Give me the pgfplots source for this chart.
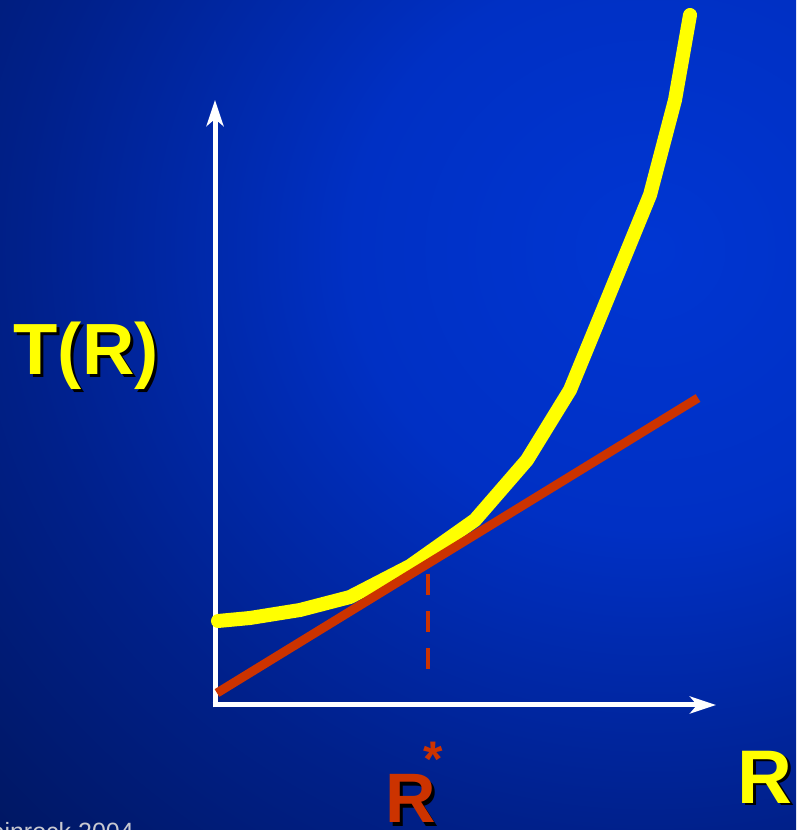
\documentclass[border=0pt]{standalone}
\usepackage{pgfplots}
\pgfplotsset{compat=1.18}
\usepackage{fontspec}
\setmainfont{Liberation Sans}
\usetikzlibrary{arrows.meta}
\definecolor{ylw}{HTML}{FFFF00}
\definecolor{rd}{HTML}{CC3300}
\definecolor{c0}{HTML}{0036D2}
\definecolor{c1}{HTML}{0030C4}
\definecolor{c2}{HTML}{00208A}
\definecolor{c3}{HTML}{001456}
\definecolor{c4}{HTML}{000C3E}
\definecolor{credit}{HTML}{C8C8D0}
\pgfdeclareradialshading{bg}{\pgfpoint{0bp}{0bp}}{color(0bp)=(c0); color(10bp)=(c1); color(21bp)=(c2); color(33bp)=(c3); color(47bp)=(c4); color(50bp)=(c4)}
\begin{document}
\begin{tikzpicture}[x=1pt,y=1pt]
\path[use as bounding box] (0,0) rectangle (796,830);
\begin{scope}
\clip (0,0) rectangle (796,830);
\shade[shading=bg] (-100,-120) rectangle (1400,1280);
\end{scope}
\begin{axis}[at={(0,0)}, anchor=south west, scale only axis,
  width=796pt, height=830pt, xmin=0, xmax=796, ymin=0, ymax=830,
  axis lines=none, ticks=none, clip=true]
% axes
\addplot[white, line width=5pt, -{Stealth[length=26pt,width=17pt,inset=7pt]}] coordinates {(215,122.5) (215,730)};
\addplot[white, line width=5pt, -{Stealth[length=26pt,width=17pt,inset=7pt]}] coordinates {(212.5,125) (716,125)};
% dashed marker at R*
\addplot[rd, line width=4.5pt, dash pattern=on 21pt off 16pt] coordinates {(428,161) (428,268)};
% T(R) curve
\addplot[ylw, line width=14pt, line cap=round, line join=round] coordinates {
(218,209) (250,212) (300,220) (350,233) (410,264) (475,310) (527,370)
(570,440) (607,530) (650,635) (675,730) (690,815)};
% tangent line
\addplot[rd, line width=9pt] coordinates {(217,137) (698,432)};
\end{axis}
\begin{scope}
\clip (0,0) rectangle (796,830);
\node[anchor=base west, inner sep=0, font=\fontsize{72.5}{80}\selectfont\bfseries, text=black] at (16.5,452) {T(R)};
\node[anchor=base west, inner sep=0, font=\fontsize{72.5}{80}\selectfont\bfseries, text=ylw] at (13.5,455) {T(R)};
\node[anchor=base west, inner sep=0, font=\fontsize{76}{80}\selectfont\bfseries, text=black] at (740.5,24) {R};
\node[anchor=base west, inner sep=0, font=\fontsize{76}{80}\selectfont\bfseries, text=ylw] at (737.5,27) {R};
\node[anchor=base west, inner sep=0, font=\fontsize{70}{80}\selectfont\bfseries, text=black] at (388,4) {R};
\node[anchor=base west, inner sep=0, font=\fontsize{70}{80}\selectfont\bfseries, text=rd] at (385,7) {R};
\node[anchor=base, inner sep=0, font=\fontsize{50}{60}\selectfont\bfseries, text=rd] at (433,53) {*};
\node[anchor=base east, inner sep=0, font=\fontsize{25}{30}\selectfont, text=credit] at (134,-10) {Kleinrock 2004};
\end{scope}
\end{tikzpicture}
\end{document}
